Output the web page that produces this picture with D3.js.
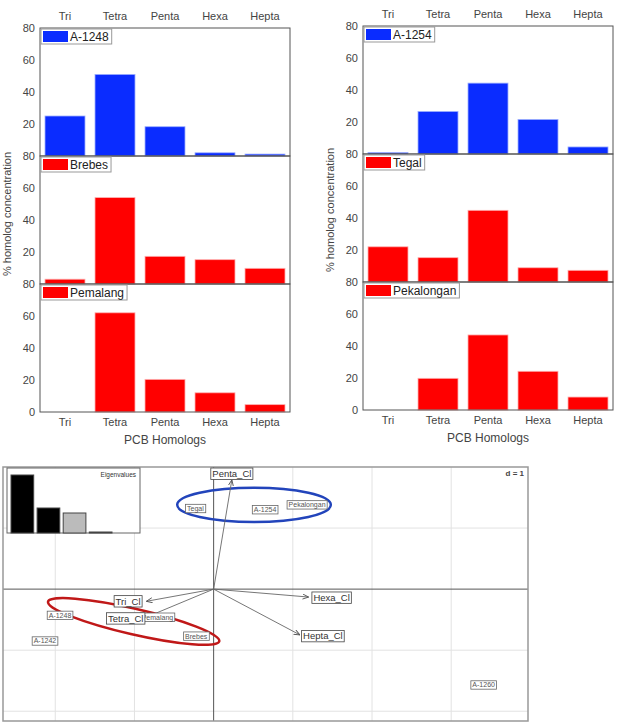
<!DOCTYPE html>
<html><head><meta charset="utf-8">
<script src="https://cdn.jsdelivr.net/npm/d3@7"></script>
<style>body{margin:0;background:#fff}svg{display:block;font-family:"Liberation Sans",Arial,sans-serif}</style>
</head><body>
<svg id="c" width="618" height="722"></svg>
<script>
const categories = ["Tri","Tetra","Penta","Hexa","Hepta"];
const leftNames = ["A-1248","Brebes","Pemalang"];
const leftColors = ["#0a2cff","#ff0000","#ff0000"];
const a1248 = [25, 51, 18.3, 2, 1.2];
const brebes = [3, 54, 17.3, 15.2, 9.8];
const pemalang = [0, 62, 20.4, 12, 4.6];
const rightNames = ["A-1254","Tegal","Pekalongan"];
const rightColors = ["#0a2cff","#ff0000","#ff0000"];
const a1254 = [0.9, 26.6, 44.3, 21.6, 4.4];
const tegal = [22, 15.2, 44.8, 8.9, 7.3];
const pekalongan = [0, 19.8, 46.9, 24.2, 8.1];
const yTicks = [0, 20, 40, 60, 80];

// biplot data
const varNames = ["Penta_Cl","Tri_Cl","Tetra_Cl","Hexa_Cl","Hepta_Cl"];
const varX = [0.23, -0.85, -0.85, 1.20, 1.09];
const varY = [1.79, -0.20, -0.46, -0.13, -0.75];
const varLabX = [0.23, -1.08, -1.11, 1.49, 1.38];
const varLabY = [1.89, -0.20, -0.48, -0.14, -0.77];
const sampleNames = ["Tegal","A-1254","Pekalongan","A-1248","Pemalang","A-1242","Brebes","A-1260"];
const sampleX = [-0.23, 0.65, 1.18, -1.94, -0.71, -2.13, -0.22, 3.41];
const sampleY = [1.32, 1.30, 1.38, -0.43, -0.46, -0.85, -0.77, -1.57];
const eigenvalues = [2.32, 1.0, 0.80, 0.04];
const gridX = [-2, -1, 1, 2, 3];
const gridY = [-2, -1, 1];

const svg = d3.select("#c");

function drawColumn(x0, x1, top, names, colors, series, labelTopY, titleX, titleY) {
  const x = d3.scaleBand().domain(categories).range([x0, x1]).paddingInner(0.2).paddingOuter(0.1);
  const ph = 128;
  const g = svg.append("g");
  g.selectAll("text.tc").data(categories).join("text")
    .attr("x", d => x(d) + x.bandwidth()/2).attr("y", labelTopY)
    .attr("text-anchor","middle").attr("font-size", 11).attr("fill","#444").text(d => d);
  series.forEach((vals, i) => {
    const pt = top + i*ph, pb = pt + ph;
    const y = d3.scaleLinear().domain([0, 80]).range([pb, pt]);
    g.selectAll(null).data(vals).join("rect")
      .attr("x", (d, j) => x(categories[j])).attr("width", x.bandwidth())
      .attr("y", d => y(d)).attr("height", d => y(0) - y(d))
      .attr("fill", colors[i]).attr("stroke", i === 0 ? "#9db0ff" : "#ffb0b0").attr("stroke-width", 0.8);
    g.append("rect").attr("x", x0).attr("y", pt).attr("width", x1 - x0).attr("height", ph)
      .attr("fill","none").attr("stroke","#555").attr("stroke-width",1);
    const tks = i === series.length - 1 ? yTicks : yTicks.filter(t => t > 0);
    g.selectAll(null).data(tks).join("text")
      .attr("x", x0 - 5).attr("y", d => y(d)).attr("dy","0.35em")
      .attr("text-anchor","end").attr("font-size", 11).attr("fill","#444").text(d => d);
    const lg = g.append("g").attr("transform", `translate(${x0+1},${pt+1})`);
    const t = lg.append("text").attr("x", 29).attr("y", 12).attr("font-size", 12).attr("fill","#222").text(names[i]);
    const w = t.node().getComputedTextLength();
    lg.insert("rect","text").attr("x",0).attr("y",0).attr("width", 29 + w + 3).attr("height", 15)
      .attr("fill","#fff").attr("stroke","#999").attr("stroke-width",1);
    lg.insert("rect","text").attr("x",2).attr("y",2).attr("width",25).attr("height",11).attr("fill", colors[i]);
  });
  const bottom = top + ph*series.length;
  g.selectAll("text.bc").data(categories).join("text")
    .attr("x", d => x(d) + x.bandwidth()/2).attr("y", bottom + 14)
    .attr("text-anchor","middle").attr("font-size", 11).attr("fill","#444").text(d => d);
  g.append("text").attr("x", (x0 + x1)/2).attr("y", bottom + 32).attr("text-anchor","middle")
    .attr("font-size", 12).attr("fill","#444").text("PCB Homologs");
  g.append("text").attr("transform", `translate(${titleX},${titleY}) rotate(-90)`)
    .attr("text-anchor","middle").attr("font-size", 11).attr("fill","#444").text("% homolog concentration");
}

drawColumn(40, 290, 28, leftNames, leftColors, [a1248, brebes, pemalang], 20, 11, 214);
drawColumn(363, 613, 26, rightNames, rightColors, [a1254, tegal, pekalongan], 18, 334, 210);

// ---- biplot ----
const bx = d3.scaleLinear().domain([-2.66, 3.97]).range([3, 528]);
const by = d3.scaleLinear().domain([-2.16, 2.0]).range([721, 467]);
const b = svg.append("g");
b.selectAll(null).data(gridX).join("line")
  .attr("x1", d => bx(d)).attr("x2", d => bx(d)).attr("y1", by(2.0)).attr("y2", by(-2.16))
  .attr("stroke","#e2e2e2");
b.selectAll(null).data(gridY).join("line")
  .attr("y1", d => by(d)).attr("y2", d => by(d)).attr("x1", bx(-2.66)).attr("x2", bx(3.97))
  .attr("stroke","#e2e2e2");
b.append("line").attr("x1", bx(0)).attr("x2", bx(0)).attr("y1", by(2.0)).attr("y2", by(-2.16)).attr("stroke","#555");
b.append("line").attr("y1", by(0)).attr("y2", by(0)).attr("x1", bx(-2.66)).attr("x2", bx(3.97)).attr("stroke","#555");
b.append("rect").attr("x", bx(-2.66)).attr("y", by(2.0)).attr("width", bx(3.97)-bx(-2.66)).attr("height", by(-2.16)-by(2.0))
  .attr("fill","none").attr("stroke","#999").attr("stroke-width",1.5);
b.append("text").attr("x", bx(3.97) - 4).attr("y", by(2.0) + 9).attr("text-anchor","end")
  .attr("font-size", 8).attr("font-weight","bold").attr("fill","#444").text("d = 1");

const ex = d3.scaleBand().domain(d3.range(eigenvalues.length)).range([11, 112]).paddingInner(0.13);
const ey = d3.scaleLinear().domain([0, 2.6]).range([533, 468]);
b.append("rect").attr("x", 7).attr("y", ey(2.6)).attr("width", 133).attr("height", ey(0)-ey(2.6))
  .attr("fill","#fff").attr("stroke","#666");
b.selectAll(null).data(eigenvalues).join("rect")
  .attr("x", (d,i) => ex(i)).attr("width", ex.bandwidth())
  .attr("y", d => ey(d)).attr("height", d => ey(0) - ey(d))
  .attr("fill", (d,i) => i < 2 ? "#000" : (i === 2 ? "#bbb" : "#fff")).attr("stroke","#444");
b.append("text").attr("x", 136).attr("y", 477).attr("text-anchor","end").attr("font-size", 6.5)
  .attr("fill","#333").text("Eigenvalues");

b.append("ellipse").attr("cx", bx(0.51)).attr("cy", by(1.38))
  .attr("rx", bx(0.97) - bx(0)).attr("ry", by(0) - by(0.28))
  .attr("fill","none").attr("stroke","#2244bb").attr("stroke-width",2.5);
b.append("ellipse").attr("transform", `translate(${bx(-1.01)},${by(-0.53)}) rotate(13)`)
  .attr("rx", bx(1.11) - bx(0)).attr("ry", by(0) - by(0.21))
  .attr("fill","none").attr("stroke","#c01818").attr("stroke-width",2.5);

svg.append("defs").append("marker").attr("id","ah").attr("viewBox","0 -3 6 6")
  .attr("refX",6).attr("refY",0).attr("markerWidth",6).attr("markerHeight",6)
  .attr("markerUnits","userSpaceOnUse").attr("orient","auto")
  .append("path").attr("d","M0,-2.5L6,0L0,2.5").attr("fill","none").attr("stroke","#555").attr("stroke-width",0.9);
b.selectAll(null).data(varNames).join("line")
  .attr("x1", bx(0)).attr("y1", by(0))
  .attr("x2", (d,i) => bx(varX[i])).attr("y2", (d,i) => by(varY[i]))
  .attr("stroke","#666").attr("stroke-width",0.9).attr("marker-end","url(#ah)");

function boxLabel(name, cx, cy, fs, color, stroke) {
  const g = b.append("g");
  const t = g.append("text").attr("x", cx).attr("y", cy).attr("dy","0.35em").attr("text-anchor","middle")
    .attr("font-size", fs).attr("fill", color).text(name);
  const bb = t.node().getBBox();
  g.insert("rect","text").attr("x", bb.x - 1.5).attr("y", cy - fs*0.6).attr("width", bb.width + 3).attr("height", fs*1.2)
    .attr("fill","#fff").attr("stroke", stroke).attr("stroke-width",0.8);
}
sampleNames.forEach((n,i) => boxLabel(n, bx(sampleX[i]), by(sampleY[i]), 7, "#555", "#666"));
varNames.forEach((n,i) => boxLabel(n, bx(varLabX[i]), by(varLabY[i]), 9.5, "#333", "#444"));
</script>
</body></html>
